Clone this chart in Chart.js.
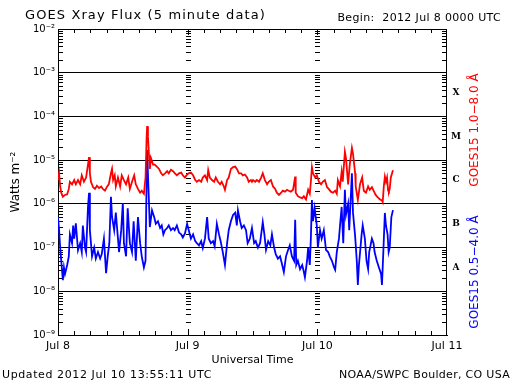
<!DOCTYPE html>
<html><head><meta charset="utf-8">
<script src="https://cdn.jsdelivr.net/npm/chart.js@4/dist/chart.umd.min.js"></script>
<style>html,body{margin:0;padding:0;background:#fff;overflow:hidden}canvas{display:block}</style>
</head><body>
<canvas id="c" width="512" height="384"></canvas>
<script>
// Hours since 2012 Jul 8 00:00 UTC and flux (W m^-2)
const redHours = [0,0.2,0.4,0.6,0.9,1.3,1.7,2.0,2.2,2.6,3.0,3.3,3.7,4.1,4.4,4.8,5.2,5.55,5.75,5.9,6.1,6.5,6.85,7.2,7.6,8.0,8.3,8.7,9.1,9.4,9.8,10.0,10.2,10.5,10.7,11.1,11.5,11.8,12.2,12.6,13.0,13.3,13.7,14.1,14.4,14.8,15.2,15.5,15.9,16.2,16.4,16.5,16.65,16.85,17.0,17.2,17.6,17.9,18.3,18.7,19.1,19.4,19.8,20.2,20.5,20.9,21.3,21.65,22.0,22.4,22.8,23.1,23.5,23.9,24.2,24.6,25.0,25.4,25.7,26.1,26.5,26.8,27.2,27.6,27.8,28.1,28.5,28.9,29.2,29.6,30.0,30.3,30.7,30.9,31.3,31.6,32.0,32.4,32.8,33.1,33.5,33.9,34.2,34.6,35.0,35.3,35.7,35.9,36.1,36.5,36.8,37.2,37.6,37.9,38.3,38.7,39.0,39.4,39.8,40.2,40.5,40.9,41.3,41.6,42.0,42.4,42.7,43.1,43.5,43.9,44.0,44.4,44.8,45.2,45.5,45.9,46.3,46.6,46.8,47.0,47.2,47.6,47.9,48.3,48.7,49.0,49.4,49.8,50.1,50.5,50.9,51.3,51.6,51.8,52.2,52.5,52.7,53.1,53.3,53.7,54.0,54.4,54.6,55.0,55.1,55.5,55.9,56.3,56.6,57.0,57.4,57.7,58.1,58.5,58.8,59.2,59.6,59.96,60.1,60.3,60.5,60.7,60.9,61.1,61.25,61.4,61.6,62.0];
const redFlux = [3.5e-6,5.0e-6,2.5e-6,1.8e-6,1.45e-6,1.6e-6,1.66e-6,2.2e-6,3.2e-6,2.8e-6,3.5e-6,2.8e-6,3.5e-6,2.8e-6,4.5e-6,3.2e-6,4.0e-6,7.9e-6,1.17e-5,5.0e-6,3.2e-6,2.4e-6,2.2e-6,2.6e-6,2.3e-6,2.5e-6,2.2e-6,2.0e-6,2.5e-6,2.8e-6,5.0e-6,6.3e-6,3.5e-6,4.5e-6,2.5e-6,4.0e-6,2.5e-6,4.5e-6,3.5e-6,2.8e-6,4.0e-6,2.2e-6,3.2e-6,4.5e-6,2.8e-6,2.2e-6,1.8e-6,2.0e-6,1.7e-6,4.0e-6,3.2e-5,6.0e-5,3.5e-5,1.26e-5,6.3e-6,1.12e-5,7.9e-6,7.9e-6,7.1e-6,6.3e-6,5.0e-6,4.5e-6,5.0e-6,5.6e-6,5.0e-6,6.0e-6,5.6e-6,5.0e-6,4.5e-6,5.0e-6,5.2e-6,4.5e-6,4.0e-6,4.7e-6,5.0e-6,5.2e-6,4.5e-6,3.5e-6,3.2e-6,3.5e-6,3.2e-6,4.0e-6,4.5e-6,3.5e-6,5.9e-6,4.0e-6,3.5e-6,3.2e-6,4.0e-6,3.2e-6,2.8e-6,3.2e-6,2.5e-6,2.1e-6,3.5e-6,4.0e-6,6.3e-6,6.9e-6,7.1e-6,6.3e-6,5.0e-6,5.0e-6,4.5e-6,4.7e-6,4.0e-6,3.2e-6,3.5e-6,3.2e-6,3.5e-6,3.2e-6,3.5e-6,3.2e-6,4.0e-6,5.0e-6,3.5e-6,2.8e-6,3.2e-6,3.5e-6,2.5e-6,2.2e-6,1.8e-6,1.6e-6,1.8e-6,2.0e-6,1.9e-6,2.1e-6,2.0e-6,1.9e-6,2.1e-6,4.2e-6,1.8e-6,1.5e-6,1.4e-6,1.35e-6,1.5e-6,1.26e-6,2.1e-6,1.7e-6,3.2e-6,6.9e-6,5.0e-6,4.0e-6,4.5e-6,3.2e-6,2.8e-6,3.2e-6,3.5e-6,2.4e-6,2.2e-6,1.9e-6,1.8e-6,2.0e-6,1.7e-6,3.5e-6,2.5e-6,5.4e-6,3.2e-6,1.55e-5,1.12e-5,2.8e-6,7.9e-6,1.9e-5,1.4e-5,5.0e-6,2.5e-6,1.23e-6,2.8e-6,4.0e-6,2.0e-6,1.8e-6,2.5e-6,2.1e-6,2.4e-6,1.9e-6,1.6e-6,1.4e-6,1.26e-6,1.2e-6,1.1e-6,2.5e-6,4.2e-6,3.2e-6,4.0e-6,2.0e-6,1.9e-6,2.2e-6,4.0e-6,5.9e-6];
const blueHours = [0,0.2,0.4,0.6,0.9,1.1,1.3,1.7,2.0,2.2,2.6,2.8,3.0,3.3,3.7,4.1,4.4,4.6,5.0,5.2,5.55,5.75,5.9,6.3,6.7,7.0,7.4,7.8,8.1,8.5,8.9,9.2,9.5,9.8,10.0,10.4,10.7,11.1,11.3,11.7,12.0,12.2,12.6,12.9,13.3,13.7,14.0,14.4,14.8,15.2,15.5,15.9,16.2,16.35,16.5,16.7,17.0,17.4,17.8,18.1,18.5,18.9,19.2,19.5,19.8,20.2,20.5,20.9,21.3,21.6,22.0,22.4,22.8,23.1,23.5,23.9,24.2,24.6,25.0,25.4,25.7,26.1,26.5,26.8,27.2,27.6,27.9,28.3,28.7,29.0,29.4,29.8,30.1,30.5,30.9,31.3,31.6,32.0,32.4,32.8,33.1,33.3,33.7,34.0,34.4,34.8,35.1,35.5,35.9,36.3,36.6,37.0,37.4,37.9,38.2,38.5,38.9,39.3,39.6,40.0,40.3,40.7,41.1,41.4,41.8,42.2,42.6,42.9,43.3,43.7,43.9,44.1,44.4,44.8,45.2,45.5,45.7,46.1,46.3,46.6,46.8,47.0,47.2,47.5,47.9,48.1,48.5,48.8,49.2,49.6,50.0,50.3,50.7,51.1,51.3,51.6,52.0,52.2,52.5,52.8,53.1,53.3,53.7,53.9,54.4,54.6,55.0,55.3,55.5,55.7,56.2,56.4,56.8,57.1,57.4,57.6,58.1,58.4,58.6,59.0,59.4,59.8,59.96,60.1,60.5,60.7,61.0,61.2,61.4,61.7,62.0];
const blueFlux = [5.0e-7,2.5e-7,1.0e-7,5.0e-8,1.8e-8,3.5e-8,2.5e-8,4.0e-8,6.3e-8,2.0e-7,1.26e-7,3.2e-7,1.6e-7,3.6e-7,8.7e-8,1.26e-7,7.9e-8,3.2e-7,1.0e-7,7.9e-8,8.5e-7,1.8e-6,2.5e-7,6.3e-8,1.0e-7,5.6e-8,7.9e-8,5.6e-8,7.1e-8,1.6e-7,2.6e-8,6.3e-8,1.26e-7,1.45e-6,5.0e-7,2.5e-7,6.3e-7,1.6e-7,7.9e-8,2.5e-7,1.05e-6,1.26e-7,6.3e-8,7.9e-7,1.26e-7,7.9e-8,4.0e-7,5.0e-8,5.0e-7,1.26e-7,6.3e-8,3.5e-8,5.0e-8,1.26e-6,1.7e-5,3.2e-6,2.95e-7,7.1e-7,5.0e-7,3.5e-7,4.0e-7,2.8e-7,3.2e-7,2.0e-7,2.5e-7,2.8e-7,3.2e-7,2.5e-7,2.8e-7,2.5e-7,3.2e-7,2.2e-7,2.0e-7,1.7e-7,2.1e-7,3.5e-7,2.5e-7,1.6e-7,2.0e-7,1.4e-7,1.26e-7,1.12e-7,1.4e-7,9.8e-8,1.6e-7,5.0e-7,1.6e-7,1.26e-7,1.4e-7,1.07e-7,3.5e-7,2.0e-7,1.4e-7,7.9e-8,4.0e-8,1.26e-7,2.5e-7,4.0e-7,5.6e-7,6.3e-7,3.2e-7,7.1e-7,4.0e-7,2.8e-7,3.2e-7,2.5e-7,1.26e-7,1.6e-7,2.8e-7,1.26e-7,1.4e-7,1.0e-7,1.26e-7,3.8e-7,2.0e-7,8.9e-8,1.4e-7,1.12e-7,2.0e-7,1.0e-7,7.1e-8,5.6e-8,6.3e-8,4.5e-8,2.75e-8,6.3e-8,8.9e-8,1.12e-7,6.3e-8,5.0e-8,4.3e-7,4.0e-8,5.0e-8,3.2e-8,4.0e-8,2.8e-8,2.1e-8,5.0e-8,1.0e-7,4.0e-8,1.6e-7,1.23e-6,4.0e-7,7.9e-7,3.2e-7,1.0e-7,2.5e-7,1.6e-7,2.5e-7,8.9e-8,7.9e-8,6.3e-8,5.0e-8,3.5e-8,3.1e-8,7.9e-8,1.6e-7,3.2e-7,8.5e-7,1.26e-7,2.1e-6,5.6e-7,1.0e-6,2.5e-7,5.0e-6,6.3e-7,1.8e-7,5.0e-8,1.4e-8,4.0e-8,2.0e-7,3.2e-7,1.6e-7,5.0e-8,3.2e-8,7.9e-8,1.6e-7,1.26e-7,7.9e-8,5.0e-8,3.5e-8,2.5e-8,1.4e-8,3.5e-8,6.2e-7,3.2e-7,2.0e-7,7.9e-8,1.0e-7,5.0e-7,7.2e-7];

const dayTicks = [0, 24, 48, 72];
const dayLabels = ['Jul 8', 'Jul 9', 'Jul 10', 'Jul 11'];
const decadeValues = [1e-9, 1e-8, 1e-7, 1e-6, 1e-5, 1e-4, 1e-3, 1e-2];
const decadeLabels = ['10\u207B\u2079', '10\u207B\u2078', '10\u207B\u2077', '10\u207B\u2076', '10\u207B\u2075', '10\u207B\u2074', '10\u207B\u00B3', '10\u207B\u00B2'];
const classLetters = ['A', 'B', 'C', 'M', 'X'];
const classCenters = [3.16e-8, 3.16e-7, 3.16e-6, 3.16e-5, 3.16e-4];
const seriesNames = ['GOES15 1.0\u22128.0 \u00C5', 'GOES15 0.5\u22124.0 \u00C5'];

const FONT = 'DejaVu Sans';
Chart.defaults.font.family = FONT;

function spaced(ctx, s) { if ('letterSpacing' in ctx) ctx.letterSpacing = s; }

const decor = {
  id: 'decor',
  beforeDatasetsDraw(chart) {
    const {ctx, chartArea: a, scales: {x, y}} = chart;
    ctx.save();
    ctx.strokeStyle = '#000';
    ctx.lineWidth = 1;
    ctx.beginPath();
    ctx.moveTo(a.left, a.top + 0.5); ctx.lineTo(a.right, a.top + 0.5);
    ctx.moveTo(a.right - 0.5, a.top); ctx.lineTo(a.right - 0.5, a.bottom);
    for (let i = 0; i < decadeValues.length - 1; i++) {
      for (let m = 2; m <= 9; m++) {
        const py = Math.round(y.getPixelForValue(m * decadeValues[i])) + 0.5;
        ctx.moveTo(a.left, py); ctx.lineTo(a.left + 5, py);
        ctx.moveTo(a.right, py); ctx.lineTo(a.right - 5, py);
        for (const d of dayTicks.slice(1, -1)) {
          const px = Math.round(x.getPixelForValue(d));
          ctx.moveTo(px - 2, py); ctx.lineTo(px + 3, py);
        }
      }
    }
    for (let h = 3; h < 72; h += 3) {
      const px = Math.round(x.getPixelForValue(h)) + 0.5;
      const len = (h % 24 === 0) ? 6 : 4;
      ctx.moveTo(px, a.top); ctx.lineTo(px, a.top + len);
      ctx.moveTo(px, a.bottom); ctx.lineTo(px, a.bottom - len);
    }
    ctx.stroke();
    ctx.restore();
  },
  afterDraw(chart) {
    const {ctx, chartArea: a, scales: {y}} = chart;
    ctx.save();
    ctx.fillStyle = '#000';
    ctx.textBaseline = 'alphabetic';
    ctx.font = '13px ' + FONT;
    spaced(ctx, '1.1px');
    ctx.textAlign = 'left';
    ctx.fillText('GOES Xray Flux (5 minute data)', 25, 19);
    ctx.font = '11px ' + FONT;
    spaced(ctx, '0.35px');
    ctx.textAlign = 'right';
    ctx.fillText('Begin:  2012 Jul 8 0000 UTC', 501, 21);
    spaced(ctx, '0px');
    ctx.textAlign = 'center';
    ctx.fillText('Universal Time', (a.left + a.right) / 2, 363);
    spaced(ctx, '0.6px');
    ctx.textAlign = 'left';
    ctx.fillText('Updated 2012 Jul 10 13:55:11 UTC', 2, 378);
    spaced(ctx, '0.3px');
    ctx.textAlign = 'right';
    ctx.fillText('NOAA/SWPC Boulder, CO USA', 510, 378);
    spaced(ctx, '0px');
    // y title
    ctx.save();
    ctx.translate(16, 182);
    ctx.rotate(-Math.PI / 2);
    ctx.textAlign = 'center';
    ctx.textBaseline = 'middle';
    ctx.font = '12px ' + FONT;
    ctx.fillText('Watts m\u207B\u00B2', 0, 0);
    ctx.restore();
    // series labels
    const lab = [[seriesNames[0], '#ff0000', 130], [seriesNames[1], '#0000ff', 272]];
    for (const [t, c, cy] of lab) {
      ctx.save();
      ctx.translate(475, cy);
      ctx.rotate(-Math.PI / 2);
      ctx.textAlign = 'center';
      ctx.textBaseline = 'middle';
      ctx.font = '12px ' + FONT;
      ctx.fillStyle = c;
      ctx.fillText(t, 0, 0);
      ctx.restore();
    }
    // flare classes
    ctx.font = 'bold 9px DejaVu Serif';
    ctx.textAlign = 'center';
    ctx.textBaseline = 'middle';
    classLetters.forEach((l, i) => {
      ctx.fillText(l, 456, y.getPixelForValue(classCenters[i]) - 2);
    });
    ctx.restore();
  }
};

new Chart(document.getElementById('c'), {
  type: 'line',
  data: {
    datasets: [
      {label: seriesNames[0], data: redHours.map((h, i) => ({x: h, y: redFlux[i]})), borderColor: '#ff0000', borderWidth: 1.8, pointRadius: 0, tension: 0, fill: false},
      {label: seriesNames[1], data: blueHours.map((h, i) => ({x: h, y: blueFlux[i]})), borderColor: '#0000ff', borderWidth: 1.8, pointRadius: 0, tension: 0, fill: false}
    ]
  },
  options: {
    responsive: false,
    animation: false,
    devicePixelRatio: 1,
    layout: {padding: {top: 29, right: 65, left: 0, bottom: 0}},
    plugins: {legend: {display: false}, tooltip: {enabled: false}, title: {display: false}},
    scales: {
      x: {
        type: 'linear', min: 0, max: 72,
        afterFit: s => { s.height = 49; },
        afterBuildTicks: s => { s.ticks = dayTicks.map(v => ({value: v})); },
        ticks: {callback: (v) => dayLabels[dayTicks.indexOf(v)], color: '#000', font: {size: 11}, padding: 5, maxRotation: 0, autoSkip: false},
        grid: {display: false, drawTicks: false},
        border: {display: true, color: '#000', width: 1}
      },
      y: {
        type: 'logarithmic', min: 1e-9, max: 1e-2,
        afterFit: s => { s.width = 58; },
        afterBuildTicks: s => { s.ticks = decadeValues.map(v => ({value: v})); },
        ticks: {callback: (v, i) => decadeLabels[i], color: '#000', font: {size: 10}, padding: 3, autoSkip: false},
        grid: {color: '#000', lineWidth: 1, drawTicks: false},
        border: {display: true, color: '#000', width: 1}
      }
    }
  },
  plugins: [decor]
});
</script>
</body></html>
